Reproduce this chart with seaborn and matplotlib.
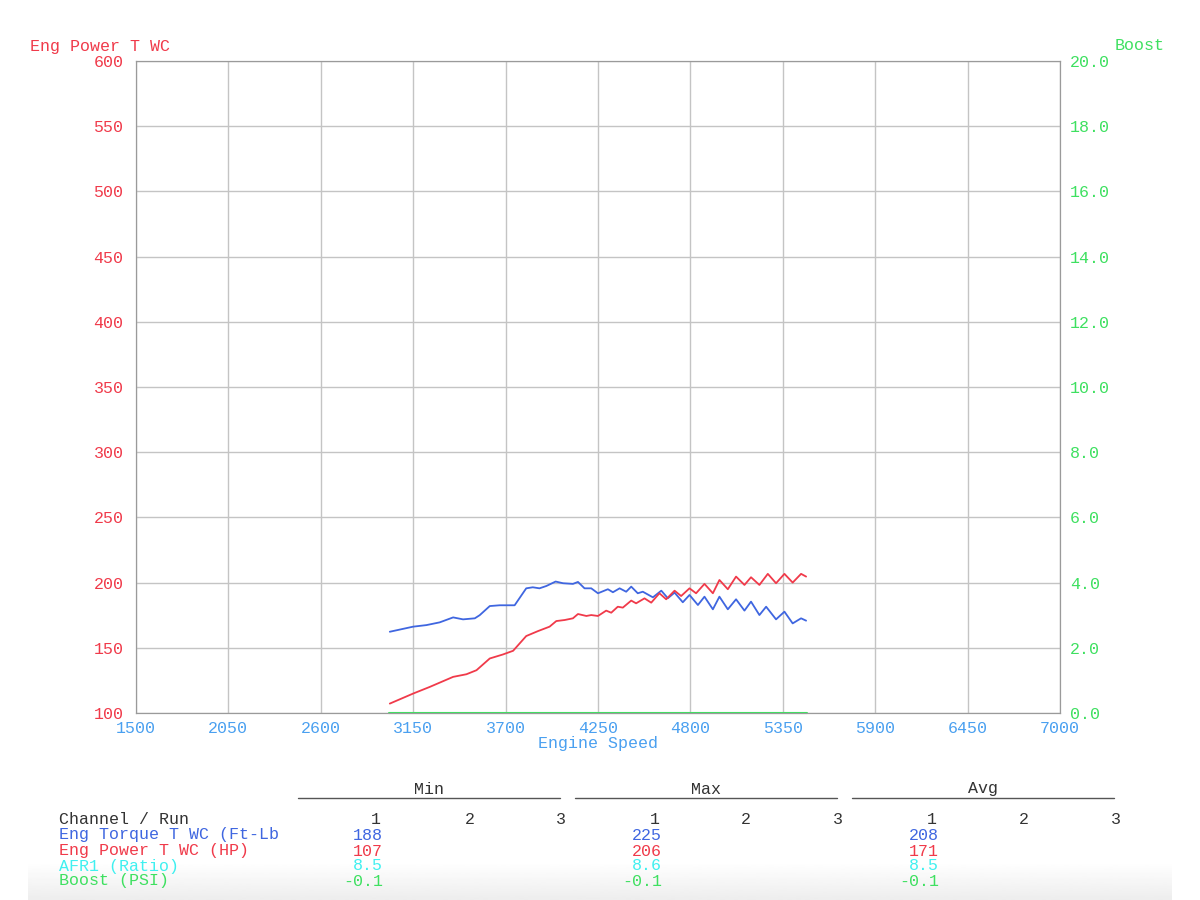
import numpy as np
import pandas as pd
import matplotlib
matplotlib.use("Agg")
import matplotlib.pyplot as plt
import seaborn as sns

# torque trace (ft-lb)
torque_rpm = [3011, 3150, 3229, 3308, 3388, 3447, 3517, 3546, 3606, 3665, 3754, 3823, 3862,
              3902, 3943, 3998, 4042, 4101, 4131, 4170, 4210, 4250, 4309, 4339, 4379, 4418,
              4448, 4487, 4517, 4577, 4627, 4666, 4706, 4755, 4795, 4845, 4884, 4934, 4973,
              5023, 5072, 5122, 5161, 5211, 5251, 5310, 5360, 5409, 5459, 5489]
torque = [162.3, 166.2, 167.4, 169.5, 173.3, 171.8, 172.6, 175.0, 182.0, 182.6, 182.6, 195.6, 196.4,
          195.6, 197.4, 200.8, 199.5, 199.0, 200.5, 195.6, 195.6, 191.8, 194.9, 192.6, 195.6, 193.0,
          196.9, 191.8, 193.0, 188.7, 193.8, 188.0, 192.3, 184.9, 190.5, 182.8, 189.2, 179.5, 189.2,
          179.5, 187.2, 178.5, 185.4, 175.1, 181.5, 171.8, 177.7, 168.7, 172.6, 170.8]

# power trace (hp)
power_rpm = [3011, 3150, 3249, 3388, 3467, 3527, 3606, 3685, 3745, 3823, 3893, 3962, 4002, 4052,
             4101, 4131, 4181, 4210, 4250, 4299, 4329, 4368, 4398, 4448, 4477, 4527, 4567, 4616,
             4656, 4706, 4745, 4795, 4834, 4884, 4934, 4973, 5023, 5072, 5122, 5161, 5211, 5261,
             5310, 5360, 5409, 5459, 5489]
power = [107.2, 114.9, 120.0, 127.7, 129.7, 132.8, 141.8, 144.9, 147.7, 159.0, 162.8, 166.2, 170.5, 171.3,
         172.6, 175.9, 174.4, 175.1, 174.4, 178.5, 176.9, 181.5, 180.8, 186.2, 184.1, 187.9, 184.6, 191.8,
         187.2, 193.8, 189.7, 195.6, 191.8, 199.0, 191.8, 202.0, 194.9, 204.6, 198.2, 204.1, 198.2, 206.7,
         199.5, 206.7, 200.0, 206.7, 204.6]

boost_rpm = [3006, 5494]
boost = [0.0, 0.0]

x_ticks = [1500, 2050, 2600, 3150, 3700, 4250, 4800, 5350, 5900, 6450, 7000]

# summary table
channels = ["Eng Torque T WC (Ft-Lb", "Eng Power T WC (HP)", "AFR1 (Ratio)", "Boost (PSI)"]
stat_min = ["188", "107", "8.5", "-0.1"]
stat_max = ["225", "206", "8.6", "-0.1"]
stat_avg = ["208", "171", "8.5", "-0.1"]

BLUE = "#3f66e0"
RED = "#f03a4a"
CYAN = "#3ff0f0"
GREEN = "#3ee060"
XBLUE = "#4aa0f0"
GRID = "#c4c4c4"

sns.set_style("white")
plt.rcParams["font.family"] = ["Liberation Mono", "DejaVu Sans Mono"]

fig = plt.figure(figsize=(12, 9), dpi=100)

# faint screenshot shadow at the bottom edge
shade = fig.add_axes([28 / 1200, 0, 1144 / 1200, 38 / 900], zorder=-5)
shade.imshow(np.linspace(1.0, 0.93, 50).reshape(-1, 1), cmap="gray", vmin=0, vmax=1,
             aspect="auto", extent=[0, 1, 0, 1], origin="upper")
shade.axis("off")

ax = fig.add_axes([0.1133, 0.2078, 0.77, 0.7244])

df_t = pd.DataFrame({"rpm": torque_rpm, "val": torque})
df_p = pd.DataFrame({"rpm": power_rpm, "val": power})
sns.lineplot(data=df_t, x="rpm", y="val", ax=ax, color=BLUE, lw=1.3)
sns.lineplot(data=df_p, x="rpm", y="val", ax=ax, color=RED, lw=1.3)

ax.set_xlim(1500, 7000)
ax.set_ylim(100, 600)
ax.set_xticks(x_ticks)
ax.set_yticks(range(100, 601, 50))
ax.grid(True, color=GRID, lw=1)
ax.tick_params(axis="x", colors=XBLUE, labelsize=12, length=0, pad=6)
ax.tick_params(axis="y", colors=RED, labelsize=12, length=0, pad=9)
ax.set_xlabel("Engine Speed", color=XBLUE, fontsize=12, labelpad=0)
ax.set_ylabel("")
for s in ax.spines.values():
    s.set_color("#9a9a9a")

ax2 = ax.twinx()
sns.lineplot(x=boost_rpm, y=boost, ax=ax2, color=GREEN, lw=1.5, clip_on=False)
ax2.set_ylim(0, 20)
ax2.set_yticks(np.arange(0, 20.01, 2))
ax2.set_yticklabels([f"{v:.1f}" for v in np.arange(0, 20.01, 2)])
ax2.tick_params(axis="y", colors=GREEN, labelsize=12, length=0, pad=7)
ax2.set_ylabel("")
for s in ax2.spines.values():
    s.set_color("#9a9a9a")

fig.text(30 / 1200, 1 - 46 / 900, "Eng Power T WC", color=RED, fontsize=12, va="center")
fig.text(1165 / 1200, 1 - 46 / 900, "Boost", color=GREEN, fontsize=12, va="center", ha="right")

# statistics table below the chart
def fx(px):
    return px / 1200

def fy(py):
    return 1 - py / 900

groups = [("Min", 298, 560, stat_min, [376, 470, 561]),
          ("Max", 575, 837, stat_max, [655, 746, 838]),
          ("Avg", 852, 1114, stat_avg, [932, 1024, 1116])]
row_y = [835, 851, 866, 881]
row_colors = [BLUE, RED, CYAN, GREEN]
for name, x0, x1, vals, cols in groups:
    fig.text(fx((x0 + x1) / 2), fy(789), name, color="#333333", fontsize=12, ha="center", va="center")
    fig.add_artist(plt.Line2D([fx(x0), fx(x1)], [fy(798), fy(798)], color="#555555", lw=1))
    for i, c in enumerate(cols):
        fig.text(fx(c + 5), fy(820), str(i + 1), color="#333333", fontsize=12, ha="right", va="center")
    for v, yy, col in zip(vals, row_y, row_colors):
        fig.text(fx(cols[0] + 7), fy(yy), v, color=col, fontsize=12, ha="right", va="center")

fig.text(fx(59), fy(820), "Channel / Run", color="#333333", fontsize=12, va="center")
for name, yy, col in zip(channels, row_y, row_colors):
    fig.text(fx(59), fy(yy), name, color=col, fontsize=12, va="center")

fig.savefig("out.png", dpi=100)
